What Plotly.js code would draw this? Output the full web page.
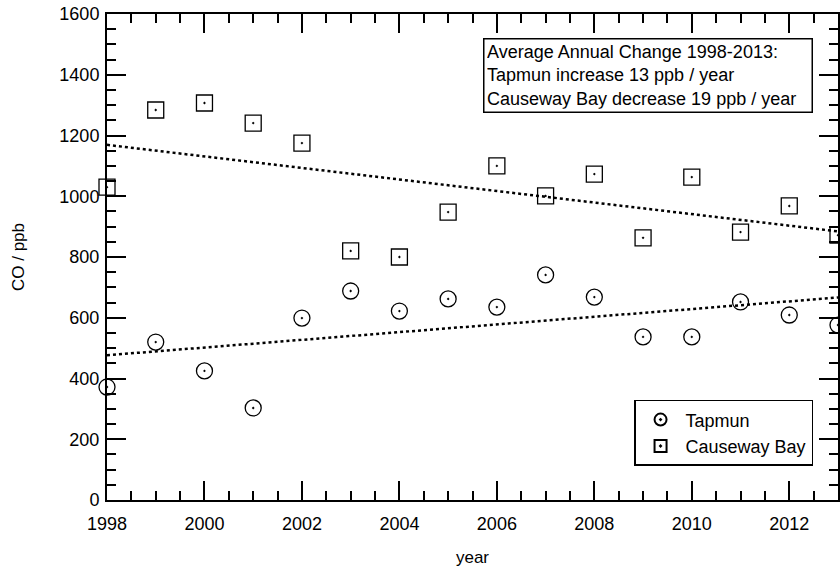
<!DOCTYPE html>
<html>
<head>
<meta charset="utf-8">
<script src="https://cdn.plot.ly/plotly-3.0.1.min.js"></script>
<style>
  html, body { margin: 0; padding: 0; background: #fff; }
  #chart { width: 840px; height: 567px; }
</style>
</head>
<body>
<div id="chart"></div>
<script>
// Annual mean CO concentrations (ppb) at two Hong Kong monitoring stations
const years = [1998, 1999, 2000, 2001, 2002, 2003, 2004, 2005, 2006, 2007, 2008, 2009, 2010, 2011, 2012, 2013];
const tapmun = [372, 520, 425, 303, 599, 688, 622, 662, 635, 741, 668, 537, 537, 652, 609, 576];
const causewayBay = [1030, 1284, 1307, 1241, 1175, 820, 800, 948, 1100, 1001, 1073, 863, 1063, 882, 968, 872];
const seriesNames = ['Tapmun', 'Causeway Bay'];
const noteLines = [
  'Average Annual Change 1998-2013:',
  'Tapmun increase 13 ppb / year',
  'Causeway Bay decrease 19 ppb / year'
];

// Ordinary least-squares trend line over the full record
function linearFit(xs, ys) {
  const n = xs.length;
  const mx = xs.reduce((a, b) => a + b, 0) / n;
  const my = ys.reduce((a, b) => a + b, 0) / n;
  let sxy = 0, sxx = 0;
  for (let i = 0; i < n; i++) {
    sxy += (xs[i] - mx) * (ys[i] - my);
    sxx += (xs[i] - mx) * (xs[i] - mx);
  }
  const slope = sxy / sxx;
  const x0 = xs[0], x1 = xs[n - 1];
  return { x: [x0, x1], y: [my + slope * (x0 - mx), my + slope * (x1 - mx)] };
}

const fitT = linearFit(years, tapmun);
const fitC = linearFit(years, causewayBay);

const FONT = 'Arial, "Liberation Sans", sans-serif';
const FS = 18;

const traces = [
  {
    x: fitT.x, y: fitT.y, mode: 'lines', showlegend: false, hoverinfo: 'skip',
    line: { color: '#000', width: 2.5, dash: 'dot' }
  },
  {
    x: fitC.x, y: fitC.y, mode: 'lines', showlegend: false, hoverinfo: 'skip',
    line: { color: '#000', width: 2.5, dash: 'dot' }
  },
  {
    x: years, y: tapmun, mode: 'markers', name: seriesNames[0], cliponaxis: false,
    marker: { symbol: 'circle-open-dot', size: 16, color: '#000', line: { color: '#000', width: 1.3 } }
  },
  {
    x: years, y: causewayBay, mode: 'markers', name: seriesNames[1], cliponaxis: false,
    marker: { symbol: 'square-open-dot', size: 16, color: '#000', line: { color: '#000', width: 1.3 } }
  }
];

const axisCommon = {
  showline: true, linecolor: '#000', linewidth: 2, mirror: 'allticks',
  ticks: 'inside', ticklen: 19, tickwidth: 2, tickcolor: '#000',
  showgrid: false, zeroline: false,
  tickfont: { family: FONT, size: FS, color: '#000' }
};

const layout = {
  width: 840, height: 567,
  margin: { l: 107, r: 2, t: 14, b: 67 },
  paper_bgcolor: '#fff', plot_bgcolor: '#fff',
  font: { family: FONT, size: FS, color: '#000' },
  xaxis: Object.assign({}, axisCommon, {
    range: [1998, 2013], tick0: 1998, dtick: 2, ticklabelstandoff: 6,
    minor: { dtick: 0.5, ticks: 'inside', ticklen: 9, tickwidth: 2, tickcolor: '#000', showgrid: false },
    title: { text: 'year', font: { family: FONT, size: 17, color: '#000' }, standoff: 19 }
  }),
  yaxis: Object.assign({}, axisCommon, {
    range: [0, 1600], tick0: 0, dtick: 200, ticklabelstandoff: 2,
    minor: { dtick: 50, ticks: 'inside', ticklen: 9, tickwidth: 2, tickcolor: '#000', showgrid: false },
    title: { text: 'CO / ppb', font: { family: FONT, size: 17, color: '#000' }, standoff: 30 }
  }),
  showlegend: true,
  legend: {
    x: 0.721, y: 0.206, xanchor: 'left', yanchor: 'top',
    bgcolor: '#fff', bordercolor: '#000', borderwidth: 1.5,
    font: { family: FONT, size: FS, color: '#000' },
    itemsizing: 'constant', itemwidth: 40,
    tracegroupgap: 0
  },
  annotations: [{
    xref: 'paper', yref: 'paper', x: 0.5144, y: 0.9506,
    xanchor: 'left', yanchor: 'top', align: 'left', showarrow: false,
    width: 322, borderpad: 2.5,
    text: noteLines.join('<br>'),
    font: { family: FONT, size: FS, color: '#000' },
    bgcolor: '#fff', bordercolor: '#000', borderwidth: 1.5
  }]
};

Plotly.newPlot('chart', traces, layout, { displayModeBar: false, staticPlot: true });
</script>
</body>
</html>
